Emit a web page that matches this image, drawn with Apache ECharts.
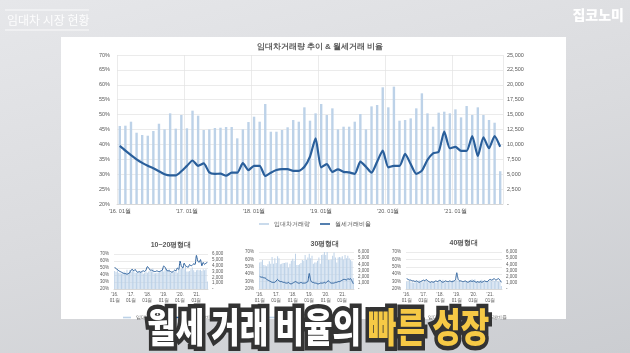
<!DOCTYPE html>
<html>
<head>
<meta charset="utf-8">
<script src="https://cdn.jsdelivr.net/npm/echarts@6/dist/echarts.min.js"></script>
<style>
  html, body { margin: 0; padding: 0; }
  body {
    width: 630px; height: 353px; overflow: hidden; position: relative;
    background: linear-gradient(165deg, #e6e7ea 0%, #dadbde 50%, #cbcdd1 100%);
  }
  .card { position: absolute; left: 61px; top: 37px; width: 505px; height: 282px; background: #fff; }
  #chart { position: absolute; left: 0; top: 0; width: 630px; height: 353px; }
</style>
</head>
<body>
<div class="card"></div>
<div id="chart"></div>
<script>
  // 2016.01 ~ 2021.09, monthly
  var months = [];
  for (var y = 16; y <= 21; y++) {
    for (var m = 1; m <= 12; m++) {
      if (y === 21 && m > 9) break;
      months.push("'" + y + '. ' + (m < 10 ? '0' + m : m) + '월');
    }
  }

  // 전체 임대차거래량 (right axis) & 월세거래비율 (%)
  var totalVolume = [
    13090, 13140, 13810, 11960, 11580, 11460, 12250, 13470, 12530, 15210, 12640, 14930,
    12700, 15660, 14820, 12420, 12530, 12750, 12800, 12920, 12920, 11020, 12530, 13750,
    14650, 13810, 16780, 12130, 12130, 12420, 12870, 14090, 13810, 16220, 13980, 15210,
    16780, 14930, 16050, 12530, 12970, 12970, 13810, 15100, 12530, 16380, 16610, 19580,
    16220, 19690, 13980, 14090, 14370, 16050, 18570, 15210, 12970, 15320, 15490, 15210,
    15880, 14540, 16440, 14930, 16220, 14930, 14090, 13640, 5500
  ];
  var totalRatio = [
    39.5, 37.9, 36.4, 35.0, 33.8, 32.8, 32.0, 31.0, 30.0, 29.6, 29.6, 31.0,
    32.8, 34.6, 32.8, 33.6, 30.6, 30.1, 30.2, 29.5, 30.5, 30.5, 33.7, 31.4,
    32.8, 32.8, 29.4, 30.5, 31.4, 31.7, 31.7, 31.1, 31.1, 32.5, 35.9, 42.0,
    32.3, 33.4, 30.8, 31.6, 30.8, 30.6, 30.1, 34.2, 32.5, 30.5, 34.2, 37.9,
    32.3, 32.8, 32.8, 36.8, 33.4, 30.1, 31.2, 34.8, 37.0, 37.5, 44.3, 38.7,
    39.2, 37.8, 37.8, 42.8, 36.1, 42.4, 38.7, 42.8, 39.2
  ];

  // 10~20평형대
  var s1Volume = [
    3100, 2900, 3300, 2800, 2700, 2600, 2800, 3000, 2800, 3300, 2800, 3200,
    2900, 3400, 3200, 2800, 2800, 2900, 2900, 2900, 2900, 2600, 2800, 3000,
    2800, 3000, 3200, 3000, 3500, 2700, 2700, 2800, 2800, 3000, 3000, 3400,
    3000, 3200, 3500, 3200, 3400, 2800, 2900, 2900, 3000, 3200, 2800, 3400,
    3400, 3500, 3900, 3400, 3900, 3000, 3000, 3100, 3400, 3700, 3200, 2900,
    3200, 3300, 3200, 3300, 3100, 3400, 3200, 3400, 1300
  ];
  var s1Ratio = [
    51, 49, 48, 46, 45, 44, 43, 42, 42, 41, 42, 43,
    47, 48, 46, 48, 45, 44, 45, 44, 45, 46, 45, 47,
    52, 50, 47, 47, 46, 45, 45, 46, 45, 45, 46, 47,
    53, 51, 47, 46, 46, 45, 44, 45, 47, 46, 50, 48,
    60, 52, 50, 57, 53, 52, 51, 55, 53, 54, 56, 55,
    68, 60, 58, 62, 53, 58, 55, 57, 58
  ];

  // 30평형대
  var s2Volume = [
    4300, 4400, 4700, 3900, 3800, 3700, 4000, 4500, 4100, 5200, 4100, 5000,
    4200, 5300, 5000, 4000, 4100, 4200, 4200, 4300, 4300, 3500, 4100, 4600,
    4900, 4600, 5700, 3900, 3900, 4000, 4200, 4700, 4600, 5500, 4700, 5100,
    5700, 5000, 5400, 4100, 4300, 4300, 4600, 5100, 4100, 5500, 5600, 6000,
    5500, 6000, 4700, 4700, 4800, 5400, 5900, 5100, 4300, 5100, 5200, 5100,
    5300, 4800, 5500, 5000, 5400, 5000, 4700, 4500, 1800
  ];
  var s2Ratio = [
    37, 36, 36, 35, 35, 33, 32, 31, 30, 29, 29, 29,
    31, 33, 31, 30, 30, 29, 29, 28, 28, 29, 27, 27,
    28, 29, 30, 29, 28, 28, 29, 28, 28, 28, 29, 30,
    41, 32, 29, 29, 28, 28, 27, 27, 28, 28, 28, 29,
    28, 30, 31, 29, 28, 28, 28, 29, 29, 30, 30, 31,
    32, 33, 33, 32, 34, 33, 34, 31, 27
  ];

  // 40평형대
  var s3Volume = [
    1200, 1200, 1300, 1100, 1100, 1000, 1100, 1200, 1100, 1400, 1100, 1300,
    1100, 1400, 1300, 1100, 1100, 1100, 1100, 1200, 1200, 1000, 1100, 1200,
    1300, 1200, 1500, 1100, 1100, 1100, 1100, 1200, 1200, 1400, 1200, 1300,
    1500, 1300, 1400, 1100, 1100, 1100, 1200, 1300, 1100, 1400, 1400, 1600,
    1400, 1600, 1200, 1200, 1200, 1400, 1500, 1300, 1100, 1300, 1300, 1300,
    1400, 1200, 1400, 1300, 1400, 1300, 1200, 1200, 500
  ];
  var s3Ratio = [
    34, 33, 32, 32, 31, 31, 30, 31, 30, 29, 30, 31,
    32, 31, 33, 31, 30, 29, 30, 29, 30, 31, 30, 31,
    32, 30, 29, 30, 31, 30, 30, 31, 30, 30, 31, 32,
    42, 33, 31, 31, 30, 30, 31, 30, 29, 30, 31, 30,
    31, 30, 29, 30, 29, 30, 29, 30, 31, 30, 30, 32,
    33, 32, 33, 34, 32, 33, 34, 32, 29
  ];

  var textColor = '#595959';
  var gridColor = '#e2e2e2';
  var barColor = '#bdd2e8';
  var lineColor = '#2a5f9b';

  function numLabel (v) {
    return v === 0 ? '-' : v.toLocaleString('en-US');
  }

  function catAxis (gridIndex, small) {
    return {
      type: 'category',
      gridIndex: gridIndex,
      data: months,
      boundaryGap: true,
      axisLine: { show: true, lineStyle: { color: '#d0d0d0', width: 0.7 } },
      axisTick: { show: false },
      axisLabel: {
        interval: 11,
        color: textColor,
        fontSize: small ? 4.5 : 5.5,
        lineHeight: small ? 6 : 7,
        margin: small ? 3 : 4,
        formatter: small ? function (v) { return v.replace(' ', '\n'); } : null
      },
      splitLine: {
        show: !small,
        interval: function (i) { return i % 12 === 0; },
        lineStyle: { color: gridColor, width: 0.7 }
      }
    };
  }

  function pctAxis (gridIndex, min, max, step, small) {
    return {
      type: 'value',
      gridIndex: gridIndex,
      min: min, max: max, interval: step,
      axisLine: { show: false },
      axisTick: { show: false },
      axisLabel: { formatter: '{value}%', color: textColor, fontSize: small ? 4.5 : 5.5, margin: small ? 5 : 7 },
      splitLine: { show: true, lineStyle: { color: gridColor, width: 0.7 } }
    };
  }

  function volAxis (gridIndex, max, step, small) {
    return {
      type: 'value',
      gridIndex: gridIndex,
      position: 'right',
      min: 0, max: max, interval: step,
      axisLine: { show: false },
      axisTick: { show: false },
      axisLabel: { formatter: numLabel, color: textColor, fontSize: small ? 4.5 : 5.5, margin: 4 },
      splitLine: { show: false }
    };
  }

  function barSeries (xi, yi, data, width) {
    return {
      name: '임대차거래량',
      type: 'bar',
      xAxisIndex: xi, yAxisIndex: yi,
      data: data,
      barWidth: width,
      itemStyle: { color: barColor },
      silent: true
    };
  }

  function lineSeries (xi, yi, data, w) {
    return {
      name: '월세거래비율',
      type: 'line',
      xAxisIndex: xi, yAxisIndex: yi,
      data: data,
      symbol: 'none',
      smooth: 0.2,
      lineStyle: { color: lineColor, width: w },
      itemStyle: { color: lineColor },
      z: 5
    };
  }

  function legendAt (left, top, small) {
    return {
      left: left, top: top,
      itemWidth: small ? 8 : 10, itemHeight: 1.6, itemGap: small ? 6 : 10,
      icon: 'rect',
      textStyle: { color: textColor, fontSize: small ? 4.5 : 5.5 },
      data: ['임대차거래량', '월세거래비율']
    };
  }

  function captionText (x, text, fill, align, back) {
    return {
      type: 'text', z: back ? 99 : 100, x: x, y: 327, scaleY: 1.28,
      style: back ? {
        text: text, font: '900 31px "Noto Sans CJK KR"', fill: '#333333',
        stroke: '#333333', lineWidth: 7, lineJoin: 'round', textAlign: align, textVerticalAlign: 'middle',
        shadowColor: 'rgba(0,0,0,0.35)', shadowOffsetX: 2, shadowOffsetY: 3, shadowBlur: 2
      } : {
        text: text, font: '900 31px "Noto Sans CJK KR"', fill: fill,
        textAlign: align, textVerticalAlign: 'middle'
      }
    };
  }

  var myChart = echarts.init(document.getElementById('chart'), null, { renderer: 'canvas' });

  myChart.setOption({
    animation: false,
    title: [
      { text: '임대차거래량 추이 & 월세거래 비율', left: 315, top: 38, textAlign: 'center',
        textStyle: { fontSize: 8, fontWeight: 'bold', color: textColor } },
      { text: '10~20평형대', left: 166, top: 237, textAlign: 'center',
        textStyle: { fontSize: 7, fontWeight: 'bold', color: textColor } },
      { text: '30평형대', left: 320, top: 236, textAlign: 'center',
        textStyle: { fontSize: 7, fontWeight: 'bold', color: textColor } },
      { text: '40평형대', left: 459, top: 235, textAlign: 'center',
        textStyle: { fontSize: 7, fontWeight: 'bold', color: textColor } }
    ],
    legend: [
      legendAt('center', 216, false),
      legendAt(118, 310, true),
      legendAt(262, 310, true),
      legendAt(410, 310, true)
    ],
    grid: [
      { left: 117, top: 55, width: 386, height: 149 },
      { left: 114, top: 254, width: 94, height: 35 },
      { left: 259, top: 252, width: 95, height: 37 },
      { left: 406, top: 252, width: 96, height: 37 }
    ],
    xAxis: [catAxis(0, false), catAxis(1, true), catAxis(2, true), catAxis(3, true)],
    yAxis: [
      pctAxis(0, 20, 70, 5, false), volAxis(0, 25000, 2500, false),
      pctAxis(1, 20, 70, 10, true), volAxis(1, 6000, 1000, true),
      pctAxis(2, 20, 70, 10, true), volAxis(2, 6000, 1000, true),
      pctAxis(3, 20, 70, 10, true), volAxis(3, 6000, 1000, true)
    ],
    series: [
      barSeries(0, 1, totalVolume, 2.4), lineSeries(0, 0, totalRatio, 2.2),
      barSeries(1, 3, s1Volume, 0.8), lineSeries(1, 2, s1Ratio, 1),
      barSeries(2, 5, s2Volume, 0.8), lineSeries(2, 4, s2Ratio, 1),
      barSeries(3, 7, s3Volume, 0.8), lineSeries(3, 6, s3Ratio, 1)
    ],
    graphic: [
      { type: 'line', shape: { x1: 5, y1: 10, x2: 89, y2: 10 }, style: { stroke: 'rgba(255,255,255,0.8)', lineWidth: 1 } },
      { type: 'line', shape: { x1: 5, y1: 30, x2: 89, y2: 30 }, style: { stroke: 'rgba(255,255,255,0.8)', lineWidth: 1 } },
      { type: 'text', x: 7, y: 20, style: { text: '임대차 시장 현황', font: '12px "Noto Sans CJK KR"', fill: 'rgba(255,255,255,0.9)', textVerticalAlign: 'middle' } },
      { type: 'text', x: 624, y: 15, style: { text: '집코노미', font: '900 14px "Noto Sans CJK KR"', fill: '#ffffff', textAlign: 'right', textVerticalAlign: 'middle' } },
      captionText(361, '월세 거래 비율의', '#ffffff', 'right', true),
      captionText(368, '빠른 성장', '#f6c945', 'left', true),
      captionText(361, '월세 거래 비율의', '#ffffff', 'right', false),
      captionText(368, '빠른 성장', '#f6c945', 'left', false)
    ]
  });
</script>
</body>
</html>
